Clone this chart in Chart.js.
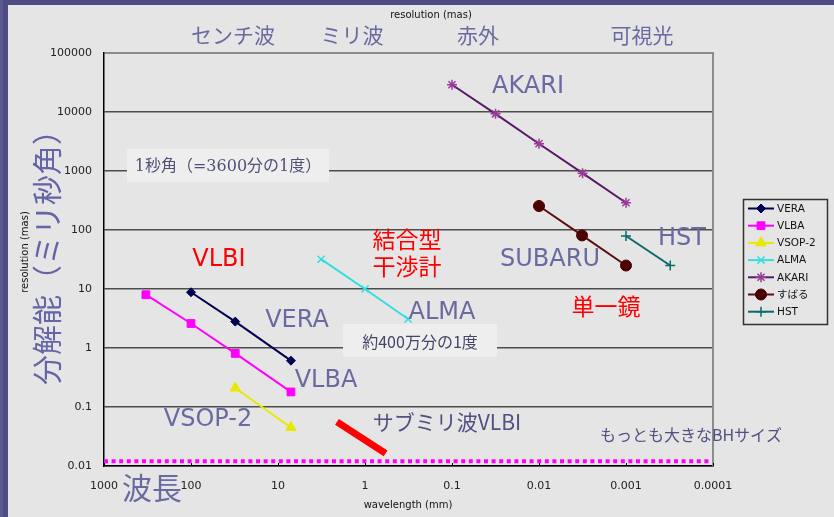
<!DOCTYPE html>
<html>
<head>
<meta charset="utf-8">
<script src="https://cdn.jsdelivr.net/npm/chart.js@4/dist/chart.umd.min.js"></script>
<style>
  html, body { margin: 0; padding: 0; background: #4d4d82; }
  #wrap { width: 834px; height: 517px; position: relative; }
  canvas { display: block; }
</style>
</head>
<body>
<div id="wrap"><canvas id="c" width="834" height="517"></canvas></div>
<script>
// ---- data (wavelength in mm, resolution in mas) ----
const wavelengthTicks = [1000, 100, 10, 1, 0.1, 0.01, 0.001, 0.0001];
const resolutionTicks = [100000, 10000, 1000, 100, 10, 1, 0.1, 0.01];

const veraWave   = [100, 31, 7.1];
const veraRes    = [8.8, 2.8, 0.61];
const vlbaWave   = [330, 100, 31, 7.1];
const vlbaRes    = [8.0, 2.6, 0.81, 0.18];
const vsopWave   = [31, 7.1];
const vsopRes    = [0.21, 0.045];
const almaWave   = [3.2, 1, 0.32];
const almaRes    = [32, 10, 3.1];
const akariWave  = [0.1, 0.0316, 0.01, 0.00316, 0.001];
const akariRes   = [29000, 9300, 2900, 920, 290];
const subaruWave = [0.01, 0.0032, 0.001];
const subaruRes  = [255, 81, 25];
const hstWave    = [0.001, 0.00031];
const hstRes     = [79, 25];
const submmWave  = [2.1, 0.58];
const submmRes   = [0.056, 0.0164];
const bhWave     = [1000, 0.00011];
const bhRes      = [0.012, 0.012];

const seriesNames = ['VERA', 'VLBA', 'VSOP-2', 'ALMA', 'AKARI', 'すばる', 'HST'];

function pts(xs, ys) { return xs.map((x, i) => ({ x: x, y: ys[i] })); }

const SLATE = '#6a6aa2';
const LATIN = '"DejaVu Sans", "Noto Sans CJK JP", sans-serif';
const CJK = '"Noto Sans CJK JP", "DejaVu Sans", sans-serif';

const datasets = [
  { label: seriesNames[0], data: pts(veraWave, veraRes), borderColor: '#000050', pointBackgroundColor: '#000050', pointBorderColor: '#000050', pointStyle: 'rectRot', pointRadius: 4.5, legend: true },
  { label: seriesNames[1], data: pts(vlbaWave, vlbaRes), borderColor: '#ff00ff', pointBackgroundColor: '#ff00ff', pointBorderColor: '#ff00ff', pointStyle: 'rect', pointRadius: 5.5, legend: true },
  { label: seriesNames[2], data: pts(vsopWave, vsopRes), borderColor: '#e8e800', pointBackgroundColor: '#e8e800', pointBorderColor: '#e8e800', pointStyle: 'triangle', pointRadius: 6, legend: true },
  { label: seriesNames[3], data: pts(almaWave, almaRes), borderColor: '#33dede', pointBackgroundColor: '#33dede', pointBorderColor: '#33dede', pointStyle: 'crossRot', pointRadius: 5, pointBorderWidth: 1.5, legend: true },
  { label: seriesNames[4], data: pts(akariWave, akariRes), borderColor: '#5a1868', pointBackgroundColor: '#a040a0', pointBorderColor: '#9a3a9a', pointStyle: 'star', pointRadius: 5, pointBorderWidth: 1.5, legend: true },
  { label: seriesNames[5], data: pts(subaruWave, subaruRes), borderColor: '#5a1010', pointBackgroundColor: '#4a0000', pointBorderColor: '#4a0000', pointStyle: 'circle', pointRadius: 5.5, legend: true },
  { label: seriesNames[6], data: pts(hstWave, hstRes), borderColor: '#0a6a6a', pointBackgroundColor: '#0a6a6a', pointBorderColor: '#0a6a6a', pointStyle: 'cross', pointRadius: 5, pointBorderWidth: 1.5, legend: true },
  { label: 'submm', data: pts(submmWave, submmRes), borderColor: '#ff0000', borderWidth: 7, pointRadius: 0, borderCapStyle: 'butt', legend: false },
  { label: 'bh', data: pts(bhWave, bhRes), borderColor: '#ff00ff', borderWidth: 4, borderDash: [4, 3.6], pointRadius: 0, borderCapStyle: 'butt', legend: false }
].map(d => Object.assign({ showLine: true, borderWidth: 2, pointBorderWidth: 1, fill: false, tension: 0 }, d));

const texts = [
  { t: 'resolution (mas)', x: 431, y: 15, f: '10px ' + LATIN, c: '#111' },
  { t: 'センチ波', x: 233, y: 35, f: '21px ' + CJK, c: SLATE },
  { t: 'ミリ波', x: 352, y: 35, f: '21px ' + CJK, c: SLATE },
  { t: '赤外', x: 478, y: 35, f: '21px ' + CJK, c: SLATE },
  { t: '可視光', x: 642, y: 35, f: '21px ' + CJK, c: SLATE },
  { t: 'AKARI', x: 528, y: 87, f: '24px ' + LATIN, c: SLATE },
  { t: 'HST', x: 682, y: 239, f: '24px ' + LATIN, c: SLATE },
  { t: 'SUBARU', x: 550, y: 260, f: '24px ' + LATIN, c: SLATE },
  { t: 'VERA', x: 297, y: 321, f: '24px ' + LATIN, c: SLATE },
  { t: 'ALMA', x: 442, y: 313, f: '24px ' + LATIN, c: SLATE },
  { t: 'VLBA', x: 326, y: 381, f: '24px ' + LATIN, c: SLATE },
  { t: 'VSOP-2', x: 208, y: 420, f: '24px ' + LATIN, c: SLATE },
  { t: 'VLBI', x: 219, y: 260, f: '24px ' + LATIN, c: '#ff0000' },
  { t: '結合型', x: 407, y: 239, f: '23px ' + CJK, c: '#ff0000' },
  { t: '干渉計', x: 407, y: 266, f: '23px ' + CJK, c: '#ff0000' },
  { t: '単一鏡', x: 606, y: 306, f: '23px ' + CJK, c: '#ff0000' },
  { t: 'サブミリ波VLBI', x: 447, y: 422, f: '21px ' + CJK, c: '#505082' },
  { t: 'もっとも大きなBHサイズ', x: 691, y: 435, f: '16px ' + CJK, c: '#505082' },
  { t: '波長', x: 152, y: 488, f: '30px ' + CJK, c: SLATE },
  { t: 'wavelength (mm)', x: 408, y: 505, f: '10px ' + LATIN, c: '#111' }
];

const boxes = [
  { t: '1秒角（=3600分の1度）', x: 127, y: 149, w: 202, h: 33, f: '16px "DejaVu Serif", "Noto Sans CJK JP", serif', c: '#505078' },
  { t: '約400万分の1度', x: 343, y: 324, w: 154, h: 33, f: '16px ' + CJK, c: '#45456a' }
];

const decorPlugin = {
  id: 'decor',
  beforeDraw(chart) {
    const ctx = chart.ctx;
    ctx.save();
    ctx.fillStyle = '#4d4d82';
    ctx.fillRect(0, 0, chart.width, chart.height);
    ctx.fillStyle = '#5a5a92';
    ctx.fillRect(0, 0, 3, chart.height);
    ctx.fillStyle = '#e5e5e5';
    ctx.fillRect(8, 5, chart.width - 8, chart.height - 5);
    ctx.restore();
  },
  afterDatasetsDraw(chart) {
    const ctx = chart.ctx, a = chart.chartArea, xs = chart.scales.x;
    ctx.save();
    ctx.strokeStyle = '#8c8c8c';
    ctx.lineWidth = 2;
    ctx.beginPath(); ctx.moveTo(a.right, a.top - 1); ctx.lineTo(a.right, a.bottom); ctx.stroke();
    ctx.strokeStyle = '#000';
    ctx.lineWidth = 1;
    wavelengthTicks.forEach(v => {
      const px = Math.round(xs.getPixelForValue(v)) + 0.5;
      ctx.beginPath(); ctx.moveTo(px, a.bottom); ctx.lineTo(px, a.bottom - 3); ctx.stroke();
    });
    boxes.forEach(b => {
      ctx.fillStyle = '#eeeeee';
      ctx.fillRect(b.x, b.y, b.w, b.h);
      ctx.fillStyle = b.c;
      ctx.font = b.f;
      ctx.textAlign = 'center';
      ctx.textBaseline = 'middle';
      ctx.fillText(b.t, b.x + b.w / 2, b.y + b.h / 2 + 1);
    });
    ctx.restore();
  },
  afterDraw(chart) {
    const ctx = chart.ctx;
    ctx.save();
    ctx.textAlign = 'center';
    ctx.textBaseline = 'middle';
    texts.forEach(o => { ctx.font = o.f; ctx.fillStyle = o.c; ctx.fillText(o.t, o.x, o.y); });
    ctx.save();
    ctx.translate(47, 250); ctx.rotate(-Math.PI / 2);
    ctx.font = '30px ' + CJK; ctx.fillStyle = '#6464a6';
    ctx.fillText('分解能（ミリ秒角）', 0, 0);
    ctx.restore();
    ctx.save();
    ctx.translate(25, 252); ctx.rotate(-Math.PI / 2);
    ctx.font = '10px ' + LATIN; ctx.fillStyle = '#111';
    ctx.fillText('resolution (mas)', 0, 0);
    ctx.restore();
    const lx = 743, ly = 199, lw = 84, lh = 125;
    ctx.strokeStyle = '#333'; ctx.lineWidth = 1.5;
    ctx.strokeRect(lx + 0.5, ly + 0.5, lw, lh);
    let i = 0;
    chart.data.datasets.forEach(ds => {
      if (!ds.legend) return;
      const y = ly + 9.5 + i * 17.2;
      ctx.strokeStyle = ds.borderColor; ctx.lineWidth = 2;
      ctx.beginPath(); ctx.moveTo(lx + 5, y); ctx.lineTo(lx + 31, y); ctx.stroke();
      ctx.fillStyle = ds.pointBackgroundColor; ctx.strokeStyle = ds.pointBorderColor;
      ctx.lineWidth = ds.pointBorderWidth || 1;
      Chart.helpers.drawPoint(ctx, { pointStyle: ds.pointStyle, radius: ds.pointRadius, borderWidth: ds.pointBorderWidth || 1, rotation: 0 }, lx + 18, y);
      ctx.fillStyle = '#111';
      ctx.font = '10.5px ' + LATIN;
      ctx.textAlign = 'left';
      ctx.fillText(ds.label, lx + 34, y + 0.5);
      i++;
    });
    ctx.restore();
  }
};

new Chart(document.getElementById('c'), {
  type: 'scatter',
  data: { datasets: datasets },
  options: {
    responsive: false,
    animation: false,
    devicePixelRatio: 1,
    layout: { padding: { top: 53, right: 121, left: 0, bottom: 0 } },
    plugins: { legend: { display: false }, tooltip: { enabled: false } },
    scales: {
      x: {
        type: 'logarithmic', reverse: true, min: 0.0001, max: 1000,
        afterBuildTicks: s => { s.ticks = wavelengthTicks.map(v => ({ value: v })); },
        afterFit: s => { s.height = 51; },
        ticks: { callback: v => String(v), autoSkip: false, maxRotation: 0, padding: 14, color: '#222', font: { family: LATIN, size: 11 } },
        grid: { display: false, drawTicks: false },
        border: { display: true, color: '#000', width: 1.5 }
      },
      y: {
        type: 'logarithmic', min: 0.01, max: 100000,
        afterBuildTicks: s => { s.ticks = resolutionTicks.map(v => ({ value: v })); },
        afterFit: s => { s.width = 104; },
        ticks: { callback: v => String(v), autoSkip: false, padding: 12, color: '#222', font: { family: LATIN, size: 11 } },
        grid: {
          drawTicks: false,
          color: c => (c.tick && c.tick.value === 100000) ? '#8c8c8c' : '#4d4d4d',
          lineWidth: c => (c.tick && c.tick.value === 100000) ? 2 : 1.5
        },
        border: { display: true, color: '#000', width: 1.5 }
      }
    }
  },
  plugins: [decorPlugin]
});
</script>
</body>
</html>
